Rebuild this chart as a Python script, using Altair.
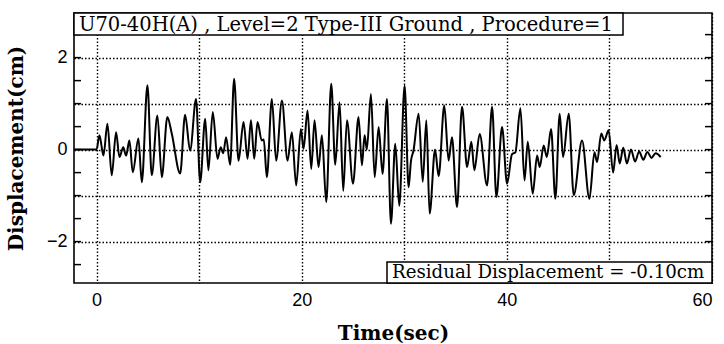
import altair as alt
import pandas as pd

# Displacement response history (time in s, displacement in cm)
time_sec = [
    -2.2, 0.0, 0.28, 0.67, 1.06, 1.48, 1.90, 2.23, 2.60, 2.88, 3.20, 3.53, 4.08, 4.41,
    4.96, 5.38, 5.93, 6.36, 6.90, 7.33, 8.15, 8.63, 9.12, 9.70, 10.10, 10.59, 10.90,
    11.33, 11.79, 12.10, 12.35, 12.63, 13.02, 13.41, 13.84, 14.33, 14.72, 15.05, 15.37,
    15.69, 16.10, 16.30, 16.60, 17.09, 17.51, 18.07, 18.62, 19.04, 19.46, 19.92, 20.18,
    20.57, 20.93, 21.25, 21.64, 21.97, 22.39, 22.88, 23.27, 23.69, 24.05, 24.41, 25.00,
    25.54, 25.87, 26.13, 26.35, 26.75, 27.11, 27.50, 27.88, 28.31, 28.70, 29.12, 29.51,
    30.03, 30.42, 30.65, 30.90, 31.40, 31.80, 32.15, 32.47, 33.00, 33.35, 33.90, 34.32,
    34.65, 35.14, 35.63, 36.12, 36.54, 36.83, 37.35, 38.07, 38.56, 38.98, 39.53, 40.02,
    40.50, 40.83, 41.32, 41.72, 42.04, 42.52, 42.95, 43.20, 43.59, 43.90, 44.31, 44.73,
    45.15, 45.48, 46.03, 46.52, 47.33, 48.05, 48.54, 48.80, 49.20, 49.50, 49.92, 50.36,
    50.70, 51.00, 51.35, 51.70, 52.10, 52.50, 52.90, 53.30, 53.70, 54.10, 54.50, 55.00,
]
disp_cm = [
    0.0, 0.0, 0.31, -0.13, 0.56, -0.56, 0.38, -0.16, 0.05, -0.13, 0.20, -0.49, 0.24, -0.71,
    1.40, -0.56, 0.74, -0.60, 0.71, 0.35, -0.52, 0.76, -0.02, 1.10, -0.71, 0.67, -0.45,
    0.82, -0.20, 0.05, -0.08, 0.27, -0.33, 1.54, -0.24, 0.60, -0.20, 0.64, -0.20,
    0.60, 0.20, 0.22, -0.60, 1.10, -0.24, 1.07, -0.24, 0.38, -0.78, 0.45, 0.02,
    0.85, -0.42, 0.64, -0.38, 0.31, -1.14, 1.43, -0.33, 1.03, -0.90, 0.64, -0.74,
    0.71, -0.34, 0.31, 0.00, 1.21, -0.60, 0.49, -0.53, 1.10, -1.61, 0.13, -1.22,
    1.39, -0.82, -0.25, -0.02, 0.78, -0.70, 0.64, -1.39, 0.00, -0.58, 0.96, -0.24,
    0.27, -1.25, 0.93, -0.38, 0.17, -0.45, 0.34, -0.78, 0.93, -1.03, 0.49, -0.74,
    -0.10, -0.06, 0.90, -0.67, 0.17, -0.96, -0.13, -0.38, 0.09, -0.16, 0.45, -1.07,
    0.78, -0.16, 0.78, -0.99, 0.20, -1.07, -0.06, -0.27, 0.35, 0.20, 0.42, -0.50,
    0.10, -0.30, 0.04, -0.30, 0.00, -0.26, -0.04, -0.22, -0.05, -0.18, -0.08, -0.16,
]

x_ticks = [0, 10, 20, 30, 40, 50, 60]
y_ticks = [-2, -1, 0, 1, 2]
y_minor = [-2.5, -2.0, -1.5, -1.0, -0.5, 0.0, 0.5, 1.0, 1.5, 2.0, 2.5]

title_text = "U70-40H(A) , Level=2 Type-III Ground , Procedure=1"
residual_text = "Residual Displacement = -0.10cm"

PLOT_W, PLOT_H = 638, 270
SERIF = "DejaVu Serif"
SANS = "Liberation Sans"

df = pd.DataFrame({"t": time_sec, "d": disp_cm})

xscale = alt.Scale(domain=[-2.2, 60], nice=False, zero=False)
yscale = alt.Scale(domain=[-2.9, 2.97], nice=False, zero=False)

x_enc = alt.X(
    "t:Q",
    scale=xscale,
    title="Time(sec)",
    axis=alt.Axis(
        values=x_ticks,
        labelExpr="datum.value % 20 == 0 ? datum.label : ''",
        grid=True,
        gridDash=[1.5, 2],
        gridColor="black",
        gridOpacity=1,
        gridWidth=1.4,
        ticks=False,
        domain=False,
        labelPadding=8,
        titlePadding=14,
    ),
)
y_enc = alt.Y(
    "d:Q",
    scale=yscale,
    title="Displacement(cm)",
    axis=alt.Axis(
        values=y_ticks,
        labelExpr="datum.value % 2 == 0 ? datum.label : ''",
        grid=True,
        gridDash=[1.5, 2],
        gridColor="black",
        gridOpacity=1,
        gridWidth=1.4,
        ticks=False,
        domain=False,
        labelPadding=7,
        titlePadding=20,
    ),
)

response = alt.Chart(df).mark_line(
    color="black", strokeWidth=2, interpolate="monotone"
).encode(x=x_enc, y=y_enc)

# short inward ticks on both vertical frame edges
tick_df = pd.DataFrame({"d": y_minor})
left_ticks = alt.Chart(tick_df).mark_rule(color="black", strokeWidth=1.5).encode(
    y=alt.Y("d:Q", scale=yscale, title="Displacement(cm)"),
    x=alt.value(0),
    x2=alt.value(7),
)
right_ticks = alt.Chart(tick_df).mark_rule(color="black", strokeWidth=1.5).encode(
    y=alt.Y("d:Q", scale=yscale, title="Displacement(cm)"),
    x=alt.value(PLOT_W - 7),
    x2=alt.value(PLOT_W),
)

# caption box at the top of the frame
title_df = pd.DataFrame({"label": [title_text]})
title_box = alt.Chart(title_df).mark_rect(fill="white", stroke="black", strokeWidth=1.5).encode(
    x=alt.value(0), x2=alt.value(549), y=alt.value(0), y2=alt.value(22)
)
title_label = alt.Chart(title_df).mark_text(
    align="left", baseline="middle", font=SERIF, fontSize=19.5, color="black"
).encode(x=alt.value(5), y=alt.value(11.5), text="label:N")

# residual displacement box at the lower right
resid_df = pd.DataFrame({"label": [residual_text]})
resid_box = alt.Chart(resid_df).mark_rect(fill="white", stroke="black", strokeWidth=1.5).encode(
    x=alt.value(313), x2=alt.value(PLOT_W), y=alt.value(249), y2=alt.value(PLOT_H)
)
resid_label = alt.Chart(resid_df).mark_text(
    align="left", baseline="middle", font=SERIF, fontSize=18.2, color="black"
).encode(x=alt.value(318), y=alt.value(260), text="label:N")

chart = (
    alt.layer(response, left_ticks, right_ticks, title_box, title_label, resid_box, resid_label)
    .properties(
        width=PLOT_W,
        height=PLOT_H,
        padding={"left": 74, "top": 13, "right": 12, "bottom": 61},
        autosize=alt.AutoSizeParams(type="none"),
        background="white",
    )
    .configure_view(stroke="black", strokeWidth=1.6)
    .configure_axis(
        labelFont=SANS,
        labelFontSize=18,
        labelColor="black",
        titleFont=SERIF,
        titleFontSize=20,
        titleFontWeight="bold",
        titleColor="black",
    )
)

chart.save("out.html", embed_options={"renderer": "svg", "actions": False})
